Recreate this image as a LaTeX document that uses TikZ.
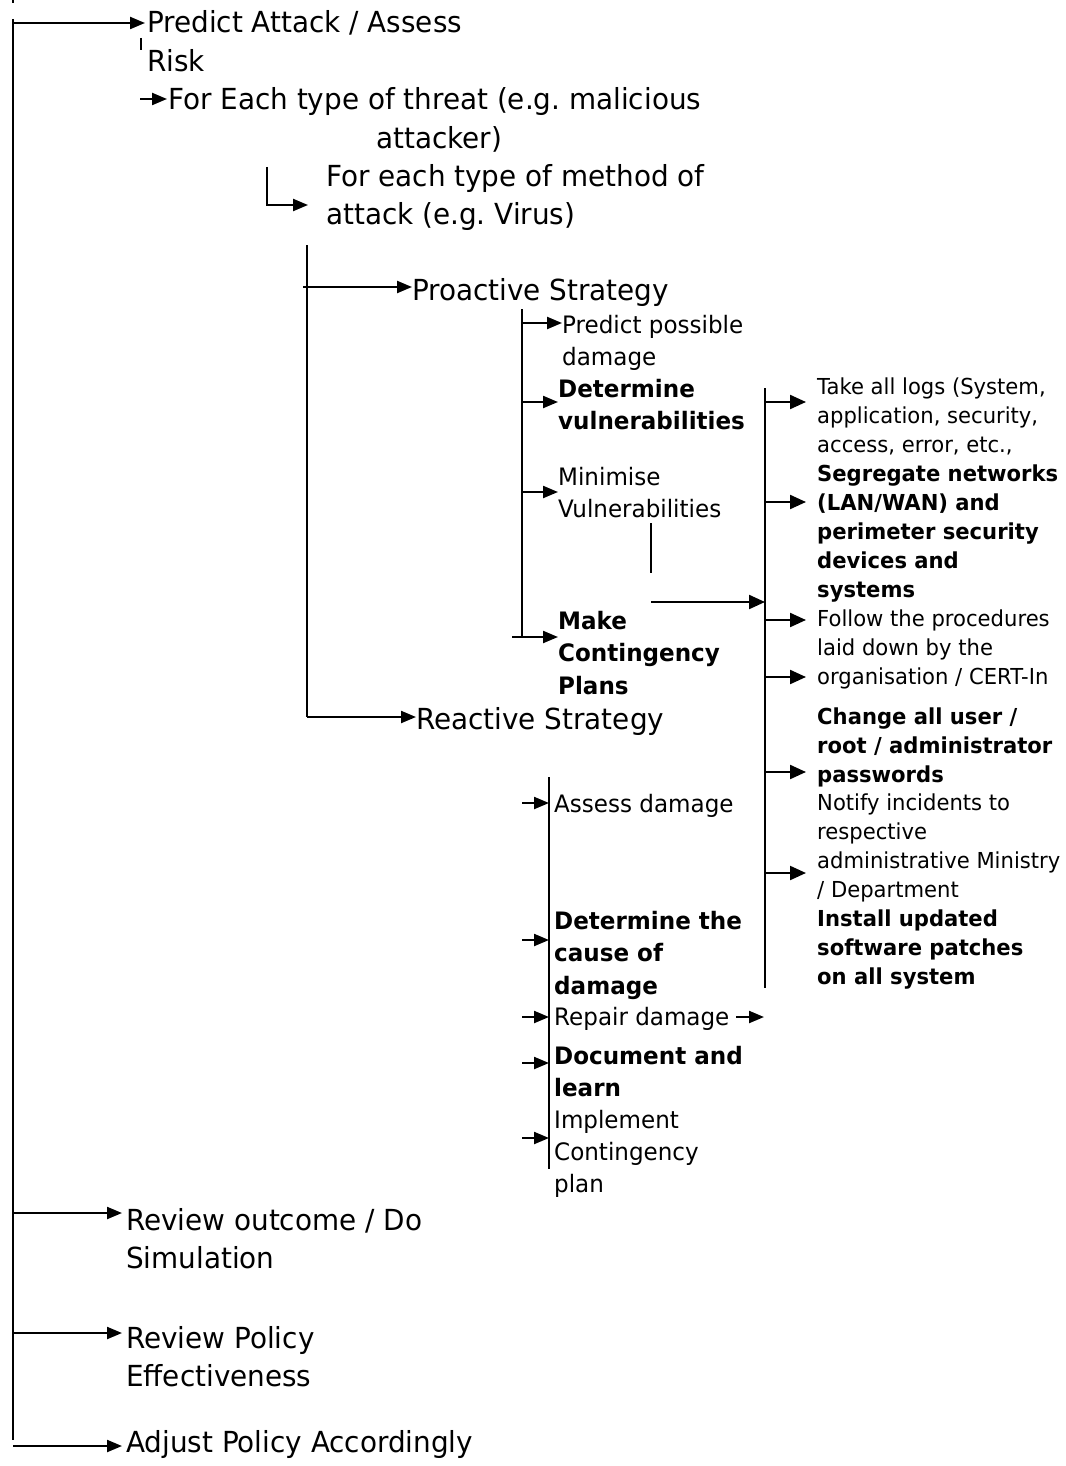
\documentclass[tikz,border=0pt]{standalone}
\usepackage{fontspec}
\setmainfont{DejaVu Sans}[FakeStretch=0.96]
\usetikzlibrary{arrows.meta}
\newcommand{\mlines}[1]{\begin{tabular}[t]{@{}l@{}}#1\end{tabular}}
\tikzset{
  conn/.style={line width=2.2pt, line cap=butt},
  arr/.style={conn, -{Triangle[length=15pt,width=12pt]}},
  arrb/.style={conn, -{Triangle[length=16pt,width=14pt]}},
  txt/.style={inner sep=0pt, anchor=base west},
  big/.style={txt, font=\fontsize{29}{38.5}\selectfont\frenchspacing},
  mid/.style={txt, font=\fontsize{24}{32}\selectfont\frenchspacing},
  midb/.style={txt, font=\fontsize{24}{32.5}\selectfont\bfseries},
  sml/.style={txt, font=\fontsize{22}{29}\selectfont\frenchspacing},
  smlb/.style={txt, font=\fontsize{22}{29}\selectfont\bfseries\frenchspacing},
}
\begin{document}
\begin{tikzpicture}[x=1pt, y=-1pt]
\useasboundingbox (0,0) rectangle (1065,1466);
\renewcommand{\arraystretch}{1}
% ---------- text nodes ----------
\node[big] (pa) at (147,33) {\mlines{Predict Attack / Assess\\Risk}};
\node[big] (fe) at (168,110) {\mlines{For Each type of threat (e.g. malicious\\\hspace*{208pt}attacker)}};
\node[big] (fm) at (326,186) {\mlines{For each type of method of\\attack (e.g. Virus)}};
\node[big] (ps) at (412,300) {Proactive Strategy};
\node[big] (rs) at (416,729) {Reactive Strategy};
\node[mid] (pd) at (562,333) {\mlines{Predict possible\\damage}};
\node[midb] (dv) at (558,397) {\mlines{Determine\\vulnerabilities}};
\node[mid] (mv) at (558,485) {\mlines{Minimise\\Vulnerabilities}};
\node[midb] (mc) at (558,629) {\mlines{Make\\Contingency\\Plans}};
\node[sml] (tl) at (817,394) {\mlines{Take all logs (System,\\application, security,\\access, error, etc.,}};
\node[smlb] (sg) at (817,481) {\mlines{Segregate networks\\(LAN/WAN) and\\perimeter security\\devices and\\systems}};
\node[sml] (fp) at (817,626) {\mlines{Follow the procedures\\laid down by the\\organisation / CERT-In}};
\node[smlb] (cp) at (817,724) {\mlines{Change all user /\\root / administrator\\passwords}};
\node[sml] (ni) at (817,810) {\mlines{Notify incidents to\\respective\\administrative Ministry\\/ Department}};
\node[smlb] (iu) at (817,926) {\mlines{Install updated\\software patches\\on all system}};
\node[mid] (ad) at (554,812) {Assess damage};
\node[midb] (dc) at (554,929) {\mlines{Determine the\\cause of\\damage}};
\node[mid] (rd) at (554,1025) {Repair damage};
\node[midb] (dl) at (554,1064) {\mlines{Document and\\learn}};
\node[mid] (ic) at (554,1128) {\mlines{Implement\\Contingency\\plan}};
\node[big] (ro) at (126,1230) {\mlines{Review outcome / Do\\Simulation}};
\node[big] (rp) at (126,1348) {\mlines{Review Policy\\Effectiveness}};
\node[big] (ap) at (126,1452) {Adjust Policy Accordingly};
% ---------- coordinates ----------
\coordinate (s0a) at (13,19);
\coordinate (s0b) at (13,1440);
\coordinate (b01) at (13,23);
\coordinate (b02) at (13,1213);
\coordinate (b03) at (13,1333);
\coordinate (b04) at (13,1446);
\coordinate (tka) at (13,0);
\coordinate (tkb) at (13,3);
\coordinate (rka) at (141,38);
\coordinate (rkb) at (141,50);
\coordinate (fea) at (140,99);
\coordinate (fma) at (267,167);
\coordinate (fmb) at (267,205);
\coordinate (s2a) at (307,245);
\coordinate (s2b) at (307,717);
\coordinate (psa) at (303,287);
\coordinate (s3a) at (522,309);
\coordinate (s3b) at (522,637);
\coordinate (b31) at (522,323);
\coordinate (b32) at (522,402);
\coordinate (b33) at (522,492);
\coordinate (b34) at (512,637);
\coordinate (mva) at (651,523);
\coordinate (mvb) at (651,573);
\coordinate (mvc) at (651,602);
\coordinate (s4a) at (765,388);
\coordinate (s4b) at (765,988);
\coordinate (s4c) at (765,602);
\coordinate (s5a) at (549,777);
\coordinate (s5b) at (549,1169);
\coordinate (rda) at (736,1017);
\coordinate (rdb) at (764,1017);
% ---------- main spine ----------
\draw[conn] (tka) -- (tkb);
\draw[conn] (s0a) -- (s0b);
\draw[arr] (b01) -- ([xshift=-2pt]b01 -| pa.west);
\draw[conn, line width=1.3pt] (rka) -- (rkb);
\draw[arr] (fea) -- ([xshift=-1pt]fea -| fe.west);
\draw[arr] (fma) -- (fmb) -- ([xshift=-18pt]fmb -| fm.west);
% ---------- strategy spine ----------
\draw[conn] (s2a) -- (s2b);
\draw[arr] (psa) -- (psa -| ps.west);
\draw[arr] (s2b) -- (s2b -| rs.west);
% ---------- proactive spine ----------
\draw[conn] (s3a) -- (s3b);
\draw[arr] (b31) -- (b31 -| pd.west);
\draw[arr] (b32) -- (b32 -| dv.west);
\draw[arr] (b33) -- (b33 -| mv.west);
\draw[arr] (b34) -- (b34 -| mc.west);
\draw[conn, line width=1.3pt] (mva) -- (mvb);
\draw[arrb] (mvc) -- (s4c);
% ---------- action spine ----------
\draw[conn] (s4a) -- (s4b);
\foreach \yy/\nn in {402/tl, 502/sg, 620/fp, 677/fp, 772/cp, 873/ni}{
  \draw[arrb] (765,\yy) -- ([xshift=-11pt]765,\yy -| \nn.west);
}
% ---------- reactive spine ----------
\draw[conn] (s5a) -- (s5b);
\foreach \yy/\nn in {803/ad, 940/dc, 1017/rd, 1063/dl, 1138/ic}{
  \draw[arr] (522,\yy) -- ([xshift=-5pt]522,\yy -| \nn.west);
}
\draw[arr] (rda) -- (rdb);
% ---------- bottom branches ----------
\draw[arr] (b02) -- ([xshift=-4pt]b02 -| ro.west);
\draw[arr] (b03) -- ([xshift=-4pt]b03 -| rp.west);
\draw[arr] (b04) -- ([xshift=-4pt]b04 -| ap.west);
\end{tikzpicture}
\end{document}
